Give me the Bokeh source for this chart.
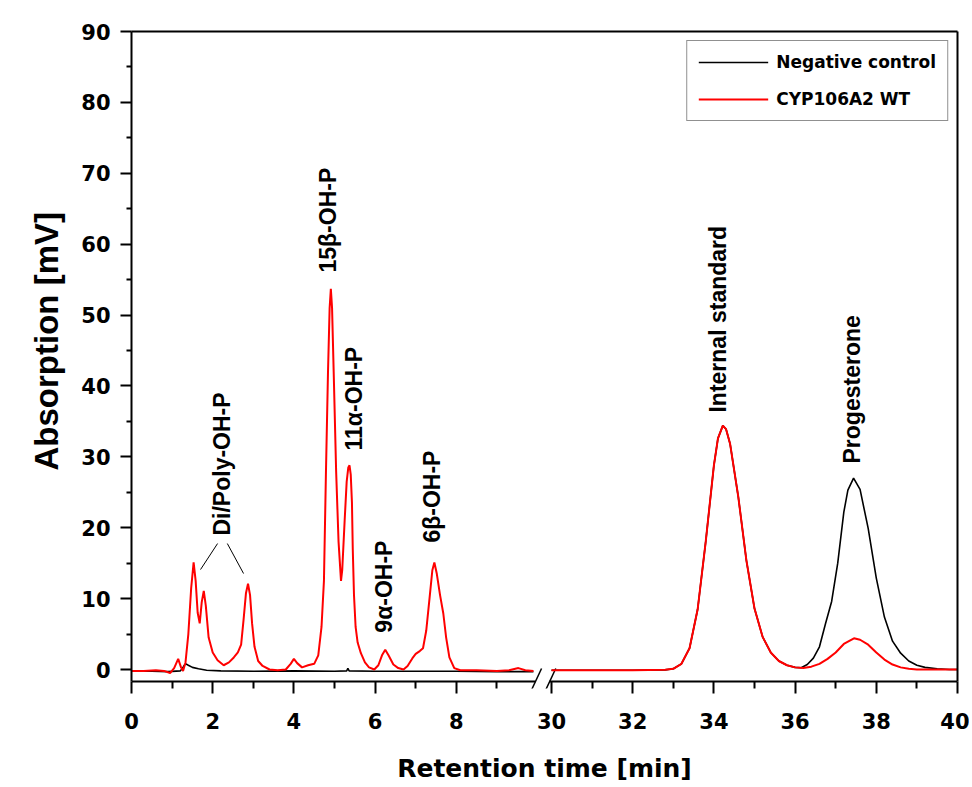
import numpy as np
from bokeh.plotting import figure
from bokeh.models import (Range1d, LinearAxis, FixedTicker, CustomJSTickFormatter,
                          Legend, LegendItem, Title)
from bokeh.core.properties import value
from bokeh.embed import file_html
from bokeh.resources import INLINE

# ---------------- data ----------------
# left part of broken axis: 0-10 min
ctrl_left_t = [0.0, 0.5, 0.9, 1.2, 1.26, 1.30, 1.34, 1.40, 1.50, 1.65, 1.85, 2.2, 3.0, 4.0,
               5.0, 5.30, 5.33, 5.36, 6.0, 7.0, 8.0, 9.0, 9.9]
ctrl_left_mv = [-0.25, -0.25, -0.3, -0.2, 0.2, 0.6, 0.8, 0.6, 0.3, 0.1, -0.1, -0.2, -0.25, -0.2,
                -0.25, -0.2, 0.15, -0.2, -0.25, -0.25, -0.25, -0.3, -0.3]

wt_left_t = [0.0, 0.3, 0.6, 0.8, 0.95, 1.05, 1.15, 1.22, 1.27, 1.33, 1.40, 1.47, 1.53, 1.58,
             1.63, 1.68, 1.73, 1.78, 1.83, 1.90, 2.00, 2.12, 2.27, 2.40, 2.52, 2.62, 2.70,
             2.76, 2.82, 2.87, 2.92, 2.97, 3.03, 3.12, 3.23, 3.40, 3.60, 3.80, 3.92, 4.00,
             4.08, 4.20, 4.35, 4.50, 4.60, 4.68, 4.74, 4.79, 4.84, 4.88, 4.91, 4.94, 4.98,
             5.04, 5.10, 5.16, 5.19, 5.25, 5.30, 5.34, 5.37, 5.40, 5.43, 5.45, 5.48, 5.52,
             5.57, 5.65, 5.75, 5.85, 5.98, 6.08, 6.17, 6.25, 6.33, 6.45, 6.57, 6.70, 6.80,
             6.92, 7.00, 7.10, 7.18, 7.26, 7.34, 7.41, 7.46, 7.52, 7.60, 7.68, 7.75, 7.83,
             7.95, 8.10, 8.50, 9.00, 9.30, 9.53, 9.70, 9.90]
wt_left_mv = [-0.2, -0.2, -0.1, -0.2, -0.5, 0.2, 1.5, 0.3, -0.2, 1.0, 5.0, 11.5, 15.1, 12.5,
              8.0, 6.5, 9.5, 11.1, 9.0, 4.5, 2.4, 1.3, 0.6, 1.0, 1.7, 2.4, 3.5,
              7.0, 10.8, 12.1, 10.5, 6.5, 3.2, 1.2, 0.5, 0.0, -0.1, 0.0, 0.8, 1.5,
              0.9, 0.3, 0.6, 0.8, 2.0, 6.0, 12.5, 28.0, 42.0, 51.0, 53.7, 51.0, 42.0,
              28.0, 18.0, 12.5, 14.0, 21.0, 26.5, 28.5, 28.8, 27.5, 23.5, 17.0, 10.5, 6.0,
              3.8, 2.3, 1.0, 0.3, 0.0, 0.6, 2.0, 2.8, 2.0, 0.7, 0.2, 0.0, 0.5,
              1.6, 2.2, 2.6, 3.0, 5.5, 10.0, 14.0, 15.1, 13.5, 10.5, 7.9, 4.5, 1.7,
              0.2, -0.1, -0.1, -0.2, -0.1, 0.2, -0.1, -0.2]

# right part of broken axis: 30-40 min
ctrl_right_t = [30.0, 31.0, 32.0, 32.8, 33.0, 33.2, 33.4, 33.6, 33.8, 34.0, 34.1, 34.22, 34.3,
                34.4, 34.6, 34.8, 35.0, 35.2, 35.4, 35.6, 35.8, 36.0, 36.15, 36.3, 36.45,
                36.6, 36.75, 36.9, 37.05, 37.2, 37.3, 37.44, 37.6, 37.8, 38.0, 38.2, 38.4,
                38.6, 38.8, 39.0, 39.2, 39.5, 39.8, 40.0]
ctrl_right_mv = [-0.1, -0.1, -0.1, -0.05, 0.1, 0.8, 3.0, 8.5, 18.1, 28.8, 32.6, 34.4, 33.9,
                 31.8, 24.4, 15.4, 8.6, 4.6, 2.4, 1.2, 0.6, 0.3, 0.25, 0.7, 1.6,
                 3.2, 6.5, 9.6, 15.0, 22.2, 25.3, 27.0, 25.4, 19.9, 12.9, 7.4, 4.0,
                 2.3, 1.2, 0.6, 0.3, 0.1, 0.0, 0.0]

wt_right_t = [30.0, 31.0, 32.0, 32.8, 33.0, 33.2, 33.4, 33.6, 33.8, 34.0, 34.1, 34.22, 34.3,
              34.4, 34.6, 34.8, 35.0, 35.2, 35.4, 35.6, 35.8, 36.0, 36.2, 36.4, 36.6, 36.8,
              37.0, 37.2, 37.45, 37.6, 37.8, 38.0, 38.2, 38.4, 38.6, 38.8, 39.0, 39.5, 40.0]
wt_right_mv = [-0.1, -0.1, -0.1, -0.05, 0.1, 0.8, 3.0, 8.5, 18.1, 28.8, 32.6, 34.4, 33.9,
               31.8, 24.4, 15.4, 8.6, 4.6, 2.4, 1.2, 0.6, 0.3, 0.2, 0.4, 0.8, 1.5,
               2.4, 3.6, 4.4, 4.2, 3.5, 2.4, 1.4, 0.7, 0.3, 0.1, 0.0, 0.0, 0.0]

series_names = ["Negative control", "CYP106A2 WT"]

left_peak_names = ["Di/Poly-OH-P", "15β-OH-P", "11α-OH-P", "9α-OH-P", "6β-OH-P"]
left_peak_t = [2.24, 4.85, 5.47, 6.23, 7.39]
left_peak_mv = [18.9, 56.0, 30.9, 5.2, 17.9]
right_peak_names = ["Internal standard", "Progesterone"]
right_peak_t = [34.09, 37.41]
right_peak_mv = [36.25, 29.06]

y_major = list(range(0, 91, 10))
y_minor = list(range(5, 90, 10))
left_major = [0, 2, 4, 6, 8]
left_minor = [1, 3, 5, 7, 9]
right_major = [30, 32, 34, 36, 38, 40]
right_minor = [31, 33, 35, 37, 39]

# ---------------- figure ----------------
SPAN = 20.345          # axis units across the frame
OFFSET = 40 - SPAN     # default x range covers the right part (30-40)
Y_AXIS = -1.69         # value where the x axis line is drawn
Y_START = -2.68        # frame bottom (7 px below the axis line, so break marks show)

p = figure(width=969, height=787, output_backend="svg", toolbar_location=None,
           x_range=Range1d(OFFSET, 40), y_range=Range1d(Y_START, 90),
           min_border_left=131, min_border_right=12, min_border_top=31, min_border_bottom=99)
p.extra_x_ranges = {"left": Range1d(0, SPAN)}
p.grid.visible = False
p.outline_line_color = None
p.background_fill_color = "white"
p.border_fill_color = "white"

TICK_FONT = "DejaVu Sans"

# x axis: ticks reach up to the (separately drawn, broken) axis line
xa = p.xaxis[0]
xa.ticker = FixedTicker(ticks=[t + OFFSET for t in left_major] + right_major,
                        minor_ticks=[t + OFFSET for t in left_minor] + right_minor)
xa.formatter = CustomJSTickFormatter(args=dict(off=OFFSET), code="""
    return String(tick < 29 ? Math.round(tick - off) : Math.round(tick));
""")
xa.axis_line_color = None
xa.major_tick_out = 5
xa.major_tick_in = 7
xa.minor_tick_out = 0
xa.minor_tick_in = 7
xa.major_tick_line_width = 2
xa.minor_tick_line_width = 2
xa.major_tick_line_color = "black"
xa.minor_tick_line_color = "black"
xa.major_label_standoff = 19
xa.major_label_text_font = TICK_FONT
xa.major_label_text_font_style = "bold"
xa.major_label_text_font_size = "21px"
xa.major_label_text_color = "black"
xa.axis_label = "Retention time [min]"
xa.axis_label_text_font = TICK_FONT
xa.axis_label_text_font_style = "bold"
xa.axis_label_text_font_size = "25px"
xa.axis_label_text_color = "black"
xa.axis_label_standoff = 22

# y axis
ya = p.yaxis[0]
ya.bounds = (Y_AXIS, 90)
ya.ticker = FixedTicker(ticks=y_major, minor_ticks=y_minor)
ya.axis_line_width = 2
ya.axis_line_color = "black"
ya.major_tick_out = 11
ya.major_tick_in = 0
ya.minor_tick_out = 5
ya.minor_tick_in = 0
ya.major_tick_line_width = 2
ya.minor_tick_line_width = 2
ya.major_tick_line_color = "black"
ya.minor_tick_line_color = "black"
ya.major_label_standoff = 10
ya.major_label_text_font = TICK_FONT
ya.major_label_text_font_style = "bold"
ya.major_label_text_font_size = "21px"
ya.major_label_text_color = "black"

# y axis title (side title, starting a little above the frame bottom like the reference)
ytitle = Title(text="Absorption [mV]", align="left", offset=218, standoff=24,
               vertical_align="top",
               text_font="Liberation Sans", text_font_style="bold",
               text_font_size="33px", text_color="black")
p.add_layout(ytitle, "left")

# top and right frame borders
top_ax = LinearAxis(ticker=FixedTicker(ticks=[]), major_tick_out=0, minor_tick_out=0,
                    major_label_text_font_size="0px", axis_line_width=2, axis_line_color="black")
p.add_layout(top_ax, "above")
right_ax = LinearAxis(ticker=FixedTicker(ticks=[]), major_tick_out=0, minor_tick_out=0,
                      major_label_text_font_size="0px", axis_line_width=2,
                      axis_line_color="black", bounds=(Y_AXIS, 90))
p.add_layout(right_ax, "right")

# broken bottom axis line + break marks
p.segment(x0=[0], y0=[Y_AXIS], x1=[9.95], y1=[Y_AXIS], x_range_name="left",
          line_color="black", line_width=2)
p.segment(x0=[29.95], y0=[Y_AXIS], x1=[40], y1=[Y_AXIS],
          line_color="black", line_width=2)
p.segment(x0=[9.80, 10.15], y0=[-3.53, -3.53], x1=[10.10, 10.45], y1=[0.14, 0.14],
          x_range_name="left", line_color="black", line_width=1.5)

# curves
r_c1 = p.line(ctrl_left_t, ctrl_left_mv, x_range_name="left", line_color="black", line_width=1.6)
r_c2 = p.line(ctrl_right_t, ctrl_right_mv, line_color="black", line_width=1.6)
r_w1 = p.line(wt_left_t, wt_left_mv, x_range_name="left", line_color="#ff0000", line_width=2)
r_w2 = p.line(wt_right_t, wt_right_mv, line_color="#ff0000", line_width=2)

# peak labels
LABEL_FONT = value("Liberation Sans")
p.text(x=left_peak_t, y=left_peak_mv, text=left_peak_names, x_range_name="left",
       angle=np.pi / 2, text_font=LABEL_FONT, text_font_style="bold",
       text_font_size="23px", text_align="left", text_baseline="middle", text_color="black")
p.text(x=right_peak_t, y=right_peak_mv, text=right_peak_names,
       angle=np.pi / 2, text_font=LABEL_FONT, text_font_style="bold",
       text_font_size="23px", text_align="left", text_baseline="middle", text_color="black")

# leader lines for Di/Poly-OH-P
p.segment(x0=[2.12, 2.36], y0=[17.77, 17.77], x1=[1.70, 2.76], y1=[14.1, 13.54],
          x_range_name="left", line_color="black", line_width=1)

# legend
legend = Legend(items=[LegendItem(label=series_names[0], renderers=[r_c1]),
                       LegendItem(label=series_names[1], renderers=[r_w1])],
                location="top_right", margin=9, padding=11, spacing=17,
                glyph_width=70, glyph_height=20, label_height=20, label_standoff=8,
                label_text_font=TICK_FONT, label_text_font_style="bold",
                label_text_font_size="17px", label_text_color="black",
                border_line_color="#222222", border_line_width=1.5,
                background_fill_alpha=1.0)
p.add_layout(legend)

open("out.html", "w").write(file_html(p, INLINE))
